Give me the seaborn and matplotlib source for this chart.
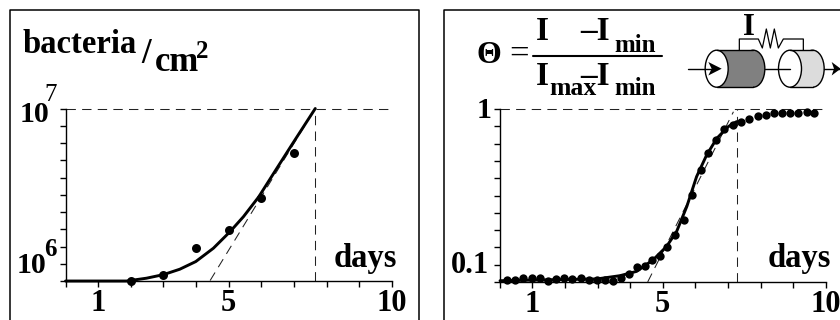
import numpy as np
import matplotlib
matplotlib.use('Agg')
import matplotlib.pyplot as plt
from matplotlib.lines import Line2D
from matplotlib.patches import Ellipse, Rectangle, Polygon
import seaborn as sns

# bacteria panel
bact_days = [2, 3, 4, 5, 6, 7]
bact_values = [7.8e5, 8.5e5, 1.27e6, 1.64e6, 2.66e6, 5.19e6]
bact_fit_days = [0.0, 1.87, 2.48, 3.0, 3.5, 3.99, 4.53, 5.04, 5.45, 5.92, 6.47, 6.96, 7.65]
bact_fit_values = [7.74e5, 7.74e5, 8.07e5, 8.51e5, 9.22e5, 1.033e6, 1.259e6, 1.61e6, 2.01e6, 2.70e6, 4.11e6, 5.96e6, 1.0e7]
bact_tan_days = [4.43, 7.65]
bact_tan_values = [7.8e5, 1.0e7]

# theta panel
theta_days = [0.21, 0.47, 0.72, 0.98, 1.23, 1.47, 1.73, 1.97, 2.23, 2.48, 2.74, 2.99, 3.24, 3.49,
              3.72, 3.97, 4.21, 4.46, 4.66, 4.91, 5.13, 5.38, 5.65, 5.91, 6.18, 6.38, 6.65, 6.88,
              7.15, 7.40, 7.66, 7.91, 8.17, 8.42, 8.67, 8.91, 9.16, 9.42, 9.65]
theta_values = [0.080, 0.080, 0.082, 0.0826, 0.082, 0.079, 0.081, 0.082, 0.081, 0.082, 0.080, 0.0797,
                0.080, 0.079, 0.0826, 0.0867, 0.0966, 0.0986, 0.1067, 0.114, 0.130, 0.155, 0.193,
                0.281, 0.406, 0.525, 0.633, 0.741, 0.785, 0.83, 0.867, 0.902, 0.92, 0.938, 0.947,
                0.947, 0.947, 0.953, 0.947]
theta_fit_days = [0.01, 2.98, 3.69, 4.2, 4.71, 5.12, 5.43, 5.74, 6.04, 6.35, 6.66, 7.01, 7.27]
theta_fit_values = [0.0789, 0.081, 0.085, 0.0906, 0.1076, 0.131, 0.164, 0.2366, 0.368, 0.507, 0.648, 0.77, 0.83]
theta_tan_days = [4.54, 7.17]
theta_tan_values = [0.0775, 0.96]

x_ticklabels = ['', '1', '', '', '', '5', '', '', '', '', '10']

sns.set_theme(style='white')
plt.rcParams['font.family'] = ['Liberation Serif', 'DejaVu Serif']
W, H = 840, 320
fig = plt.figure(figsize=(8.4, 3.2), dpi=100)


def make_axes(x0, x1, y0, y1):
    return fig.add_axes([x0 / W, 1 - y1 / H, (x1 - x0) / W, (y1 - y0) / H])


def style_axes(ax, ytop, ybottom, decade_ticks):
    ax.set_xlim(0, 10)
    ax.set_yscale('log')
    ax.set_ylim(ybottom, ytop)
    ax.set_xticks(range(0, 11))
    ax.set_xticklabels(x_ticklabels, fontsize=22, fontweight='bold', color='black')
    ax.set_yticks(decade_ticks)
    ax.set_yticklabels([''] * len(decade_ticks))
    ax.minorticks_off()
    ax.tick_params(axis='both', length=4, width=1, color='black', bottom=True, left=True)
    ax.tick_params(axis='x', pad=2)
    ax.set_xlabel('')
    ax.set_ylabel('')
    ax.patch.set_alpha(0)
    sns.despine(ax=ax)
    for s in ['left', 'bottom']:
        ax.spines[s].set_color('black')
        ax.spines[s].set_linewidth(1.0)


def dashed(ax, xs, ys):
    ax.plot(xs, ys, color='#222222', lw=0.75, dashes=(9, 6), clip_on=False, zorder=2)


# left panel
ax1 = make_axes(65.5, 392, 108.5, 281)
sns.lineplot(x=bact_fit_days, y=bact_fit_values, ax=ax1, color='black', lw=2.1, zorder=3, clip_on=False, estimator=None, sort=False)
sns.scatterplot(x=bact_days, y=bact_values, ax=ax1, color='black', s=42, linewidth=0, zorder=4, clip_on=False)
style_axes(ax1, 1e7, 10 ** (6 - 1 / 9), [10 ** (7 - k / 9) for k in range(11)])
dashed(ax1, bact_tan_days, bact_tan_values)
dashed(ax1, [0, 10], [1e7, 1e7])
dashed(ax1, [7.65, 7.65], [10 ** (6 - 1 / 9), 1e7])

# right panel
ax2 = make_axes(499.7, 825.7, 109, 282)
sns.lineplot(x=theta_fit_days, y=theta_fit_values, ax=ax2, color='black', lw=2.1, zorder=3, clip_on=False, estimator=None, sort=False)
sns.scatterplot(x=theta_days, y=theta_values, ax=ax2, color='black', s=36, linewidth=0, zorder=4, clip_on=False)
style_axes(ax2, 1, 10 ** (-1 - 1 / 9), [10 ** (-k / 9) for k in range(11)])
dashed(ax2, theta_tan_days, theta_tan_values)
dashed(ax2, [0, 10], [1, 1])
dashed(ax2, [7.29, 7.29], [10 ** (-1 - 1 / 9), 1])

# pixel overlay for the frames, labels and the little diagram
ov = fig.add_axes([0, 0, 1, 1], zorder=5)
ov.set_xlim(0, W)
ov.set_ylim(H, 0)
ov.axis('off')


def txt(x, y, s, size, weight='bold', ha='left', va='baseline'):
    ov.text(x, y, s, fontsize=size, fontweight=weight, ha=ha, va=va, color='black')


for xs, ys in [([9.5, 9.5, 418.5, 418.5], [320, 9.5, 9.5, 320]), ([443.5, 443.5, 840], [320, 9.5, 9.5])]:
    ov.add_line(Line2D(xs, ys, color='black', lw=1.1))

txt(23, 53, 'bacteria', 23.5)
txt(141, 63, '/', 25)
txt(155, 71, 'cm', 25)
txt(196, 58, '2', 18)
txt(20, 122, '10', 21.5)
txt(44, 101, '7', 18, weight='normal')
txt(17, 273, '10', 21.5)
txt(44, 256, '6', 18)
txt(334, 267, 'days', 23.5)

txt(477, 118, '1', 21.5)
txt(451, 273, '0.1', 22)
txt(768, 267, 'days', 23.5)

# formula
txt(477, 63, '\u0398', 23)
txt(509, 64, '=', 25, weight='normal')
ov.add_line(Line2D([533, 662], [55.5, 55.5], color='black', lw=1.5))
txt(536, 40, 'I', 24)
txt(580, 40, '\u2013I', 24)
txt(614, 52, 'min', 18)
txt(536, 85, 'I', 24)
txt(549, 95, 'max', 18.5)
txt(580, 85, '\u2013I', 24)
txt(614, 95, 'min', 18)


def px(zx):
    return 420 + zx / 3


def cylinder(cx0, cx1, fill):
    cy, w, h = 68.7, 23, 37
    ov.add_patch(Ellipse((cx1, cy), w, h, fc=fill, ec='black', lw=1))
    ov.add_patch(Rectangle((cx0, cy - h / 2), cx1 - cx0, h, fc=fill, ec='none'))
    ov.add_line(Line2D([cx0, cx1], [cy - h / 2, cy - h / 2], color='black', lw=1))
    ov.add_line(Line2D([cx0, cx1], [cy + h / 2, cy + h / 2], color='black', lw=1))
    ov.add_patch(Ellipse((cx0, cy), w, h, fc='white', ec='black', lw=1))


cylinder(px(890), px(1000), '#808080')
cylinder(px(1110), px(1178), '#dcdcdc')
ov.add_line(Line2D([px(1035), px(1110)], [68.7, 68.7], color='black', lw=1))
ov.add_line(Line2D([px(805), px(890)], [68.7, 68.7], color='black', lw=1))
ov.add_patch(Polygon([(px(905), 68.7), (px(865), 62), (px(875), 68.7), (px(865), 75.5)], fc='black', ec='none'))
ov.add_line(Line2D([px(1212), 840], [68.7, 68.7], color='black', lw=1))
ov.add_patch(Polygon([(px(1262), 68.7), (px(1235), 62), (px(1242), 68.7), (px(1235), 75.5)], fc='black', ec='none'))
wire_x = [958, 958, 1015, 1027, 1039, 1051, 1063, 1075, 1090, 1150, 1150]
wire_y = [50, 39, 39, 48, 29, 48, 29, 48, 39, 39, 50]
ov.add_line(Line2D([px(v) for v in wire_x], wire_y, color='black', lw=0.9))
txt(px(970), 35, 'I', 22)

fig.savefig('out.png', dpi=100)
